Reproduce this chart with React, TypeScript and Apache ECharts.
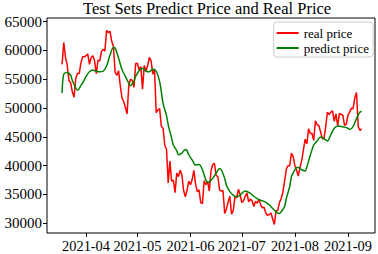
import React, { useEffect, useRef } from "react";
import * as echarts from "echarts";

const realStart = "2021-03-18";
const realPrice = [
  57600, 61400, 58800, 57500, 54800, 54400, 52800, 51900, 55200, 56000, 56000, 57800, 58900, 58900,
  59100, 59400, 57600, 58800, 59100, 58200, 56000, 58300, 58200, 59800, 60200, 59900, 63500, 63100, 63300,
  61600, 60700, 56200, 55700, 56500, 53900, 51800, 51100, 50100, 49000, 54000, 55000, 54800, 53600, 57750,
  57800, 56600, 57200, 53300, 57400, 56400, 57400, 58800, 58200, 55900, 56700, 49200, 49700, 49900, 46800,
  46500, 43500, 42900, 37000, 40800, 37300, 37500, 35300, 38700, 38100, 39200, 38400, 35700, 34600, 35700, 37300,
  36700, 37600, 39200, 36800, 35500, 35800, 33600, 33400, 37400, 36700, 37300, 35600, 39100, 40200, 40400,
  38300, 38100, 35800, 35600, 35700, 31700, 32500, 33700, 34700, 31600, 32200, 34600, 34400, 35900, 35000,
  33600, 33900, 34700, 35300, 33700, 34200, 33900, 32900, 33800, 33500, 34200, 33200, 32700, 32800, 31800,
  31400, 31500, 31800, 30800, 29800, 32100, 32300, 33600, 34300, 35400, 37300, 39400, 40000, 40000, 42200, 41600,
  40000, 39200, 38200, 39700, 40900, 42800, 44600, 43800, 46400, 45600, 45600, 44400, 47800, 47100, 47000,
  45900, 44700, 44700, 46800, 49300, 48900, 49300, 49500, 47700, 49000, 46900, 49100, 48900, 48800, 47000, 47200,
  48800, 49300, 50000, 49900, 51800, 52700, 46800, 46100, 46400,
];

const predictDates = [
  "2021-03-18", "2021-03-19", "2021-03-21", "2021-03-23", "2021-03-24", "2021-03-26", "2021-03-27", "2021-03-29",
  "2021-03-31", "2021-04-01", "2021-04-03", "2021-04-05", "2021-04-07", "2021-04-09", "2021-04-11", "2021-04-13",
  "2021-04-15", "2021-04-17", "2021-04-18", "2021-04-20", "2021-04-22", "2021-04-24", "2021-04-26", "2021-04-27",
  "2021-04-29", "2021-04-30", "2021-05-02", "2021-05-04", "2021-05-06", "2021-05-08", "2021-05-10", "2021-05-12",
  "2021-05-14", "2021-05-15", "2021-05-16", "2021-05-18", "2021-05-19", "2021-05-21", "2021-05-22", "2021-05-24",
  "2021-05-25", "2021-05-27", "2021-05-29", "2021-05-30", "2021-05-31", "2021-06-02", "2021-06-04", "2021-06-06",
  "2021-06-08", "2021-06-10", "2021-06-11", "2021-06-12", "2021-06-14", "2021-06-16", "2021-06-18", "2021-06-19",
  "2021-06-21", "2021-06-22", "2021-06-24", "2021-06-26", "2021-06-28", "2021-06-30", "2021-07-01", "2021-07-03",
  "2021-07-06", "2021-07-08", "2021-07-10", "2021-07-12", "2021-07-14", "2021-07-17", "2021-07-19", "2021-07-21",
  "2021-07-23", "2021-07-24", "2021-07-26", "2021-07-27", "2021-07-29", "2021-07-30", "2021-08-01", "2021-08-02",
  "2021-08-03", "2021-08-05", "2021-08-07", "2021-08-08", "2021-08-10", "2021-08-12", "2021-08-14", "2021-08-16",
  "2021-08-18", "2021-08-20", "2021-08-22", "2021-08-24", "2021-08-26", "2021-08-28", "2021-08-30", "2021-09-01",
  "2021-09-02", "2021-09-04", "2021-09-06", "2021-09-08", "2021-09-09",
];
const predictPrice = [
  52600, 55900, 56200, 55700, 54800, 53500, 53100, 53900,
  54900, 55500, 56300, 56600, 56400, 56300, 56400, 57300,
  59200, 60500, 60400, 58700, 56700, 55500, 54300, 53900,
  54700, 55500, 56500, 56900, 56400, 56300, 56800, 56400,
  54600, 52800, 50800, 48700, 47100, 44800, 43600, 42600,
  41900, 42200, 42800, 42600, 41900, 41000, 40100, 40200,
  39300, 37500, 37100, 37200, 37800, 38700, 39500, 39300,
  37800, 36600, 35500, 34900, 34600, 34900, 35200, 35600,
  35200, 34700, 34300, 34000, 33800, 33200, 32600, 32000,
  31700, 32000, 32900, 34300, 36400, 38100, 39300, 39700,
  39700, 39300, 39100, 39800, 41800, 43600, 44300, 45000,
  44700, 44300, 45400, 46500, 46900, 46800, 46700, 46500,
  46300, 46800, 48200, 49300, 49400,
];

const xTickLabels = ["2021-04", "2021-05", "2021-06", "2021-07", "2021-08", "2021-09"];
const yTicks = [30000, 35000, 40000, 45000, 50000, 55000, 60000, 65000];

const ORIGIN = Date.UTC(2021, 2, 1);
function dayOf(s: string): number {
  const [y, m, d] = s.split("-").map(Number);
  return (Date.UTC(y, m - 1, d || 1) - ORIGIN) / 86400000;
}

const FONT = "Liberation Serif";

export default function App() {
  const ref = useRef<HTMLDivElement>(null);
  useEffect(() => {
    if (!ref.current) return;
    const chart = echarts.init(ref.current, undefined, { renderer: "svg" });
    const start = dayOf(realStart);
    const xTickDays = xTickLabels.map((l) => dayOf(l + "-01"));
    const labelOf = (v: number) => {
      const i = xTickDays.findIndex((d) => Math.abs(d - v) < 0.01);
      return i >= 0 ? xTickLabels[i] : "";
    };
    chart.setOption({
      animation: false,
      textStyle: { fontFamily: FONT },
      title: {
        text: "Test Sets Predict Price and Real Price",
        left: 83,
        top: 0,
        padding: 0,
        textStyle: { fontFamily: FONT, fontSize: 16.5, lineHeight: 17, fontWeight: "normal", color: "#000" },
      },
      legend: {
        orient: "vertical",
        right: 5,
        top: 22,
        padding: [4, 4, 2, 3],
        itemGap: 1,
        itemWidth: 22,
        itemHeight: 2,
        icon: "rect",
        backgroundColor: "#fff",
        borderColor: "#cccccc",
        borderWidth: 1,
        borderRadius: 3,
        textStyle: { fontFamily: FONT, fontSize: 13, color: "#000", lineHeight: 14 },
        data: ["real price", "predict price"],
      },
      grid: {
        left: 47,
        top: 18,
        right: 3,
        bottom: 21,
        show: true,
        borderColor: "#000",
        borderWidth: 1,
        backgroundColor: "transparent",
      },
      xAxis: {
        type: "value",
        min: 8.2,
        max: 199.8,
        axisLine: { show: false },
        splitLine: { show: false },
        axisTick: { show: true, length: 4, lineStyle: { color: "#000" }, customValues: xTickDays },
        axisLabel: {
          customValues: xTickDays,
          formatter: (v: number) => labelOf(v),
          fontFamily: FONT,
          fontSize: 14.4,
          color: "#000",
          margin: 6,
        },
      },
      yAxis: {
        type: "value",
        min: 28316,
        max: 65642,
        axisLine: { show: false },
        splitLine: { show: false },
        axisTick: { show: true, length: 4, lineStyle: { color: "#000" }, customValues: yTicks },
        axisLabel: {
          customValues: yTicks,
          formatter: (v: number) => String(v),
          fontFamily: FONT,
          fontSize: 15,
          color: "#000",
          margin: 5,
        },
      },
      series: [
        {
          name: "real price",
          type: "line",
          symbol: "none",
          color: "#ff0000",
          lineStyle: { width: 1.5, color: "#ff0000" },
          data: realPrice.map((v, i) => [start + i, v]),
        },
        {
          name: "predict price",
          type: "line",
          symbol: "none",
          smooth: 0.3,
          color: "#008000",
          lineStyle: { width: 1.5, color: "#008000" },
          data: predictDates.map((d, i) => [dayOf(d), predictPrice[i]]),
        },
      ],
    });
    return () => chart.dispose();
  }, []);
  return <div ref={ref} style={{ width: 378, height: 254, position: "absolute", left: 0, top: 0 }} />;
}
